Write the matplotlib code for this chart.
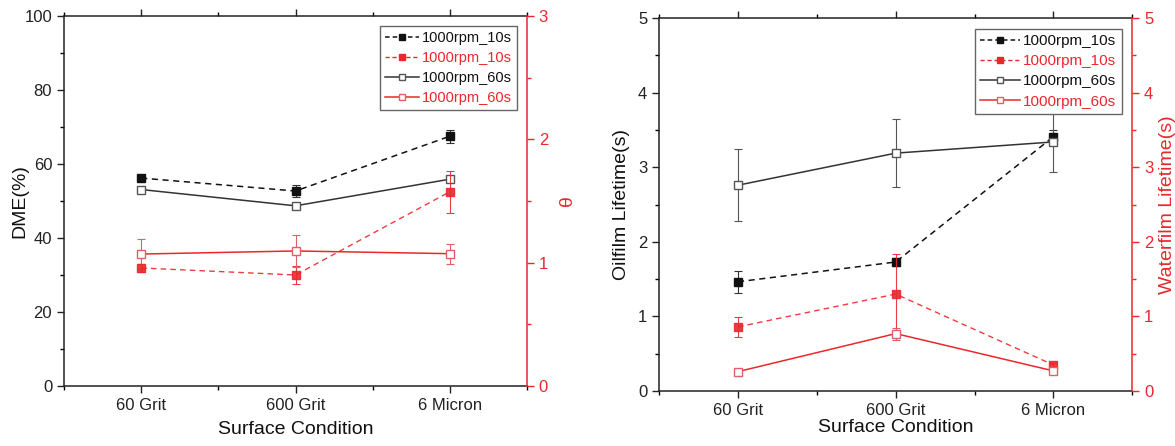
import matplotlib
matplotlib.use("Agg")
import matplotlib.pyplot as plt
from matplotlib.ticker import MultipleLocator
from matplotlib.lines import Line2D
import numpy as np

plt.rcParams['font.family'] = ['Liberation Sans', 'DejaVu Sans']

categories = ["60 Grit", "600 Grit", "6 Micron"]
legend_labels = ["1000rpm_10s", "1000rpm_10s", "1000rpm_60s", "1000rpm_60s"]

# Left panel: DME (%) and theta
dme_10s = [56.2, 52.7, 67.5]
dme_10s_err = [0.6, 1.6, 1.7]
dme_60s = [53.1, 48.7, 55.9]
dme_60s_err = [0.6, 0.8, 0.8]
theta_10s = [0.957, 0.90, 1.575]
theta_10s_err = [0.03, 0.07, 0.17]
theta_60s = [1.07, 1.095, 1.073]
theta_60s_err = [0.125, 0.13, 0.08]

# Right panel: oilfilm and waterfilm lifetime (s)
oil_10s = [1.465, 1.73, 3.41]
oil_10s_err = [0.145, 0.05, 0.09]
oil_60s = [2.76, 3.19, 3.34]
oil_60s_err = [0.48, 0.46, 0.40]
water_10s = [0.86, 1.30, 0.35]
water_10s_err = [0.13, 0.54, 0.03]
water_60s = [0.26, 0.77, 0.27]
water_60s_err = [0.02, 0.08, 0.02]

RED = "#e8282d"
BLK = "#111111"
GRY = "#333333"

fig = plt.figure(figsize=(11.75, 4.46), dpi=100)
x = np.arange(len(categories))


def style_axes(ax, axr, ymax_l, ymaj_l, ymax_r, ymaj_r):
    ax.set_xlim(-0.5, 2.5)
    ax.set_xticks(x)
    ax.set_xticklabels(categories, fontsize=12, color="#222222")
    ax.xaxis.set_minor_locator(MultipleLocator(0.5))
    ax.set_ylim(0, ymax_l)
    ax.yaxis.set_major_locator(MultipleLocator(ymaj_l))
    ax.yaxis.set_minor_locator(MultipleLocator(ymaj_l / 2))
    ax.tick_params(axis='both', which='major', direction='out', length=5, width=1, labelsize=12, colors="#222222")
    ax.tick_params(axis='both', which='minor', direction='out', length=3, width=1)
    ax.tick_params(axis='x', which='both', top=True)
    for s in ['left', 'bottom', 'top']:
        ax.spines[s].set_color("#222222")
        ax.spines[s].set_linewidth(1.1)
    ax.spines['right'].set_visible(False)
    axr.set_ylim(0, ymax_r)
    axr.yaxis.set_major_locator(MultipleLocator(ymaj_r))
    axr.yaxis.set_minor_locator(MultipleLocator(ymaj_r / 2))
    axr.tick_params(axis='y', which='major', direction='out', length=5, width=1, labelsize=12, colors=RED)
    axr.tick_params(axis='y', which='minor', direction='out', length=3, width=1, colors=RED)
    axr.spines['right'].set_color(RED)
    axr.spines['right'].set_linewidth(1.1)
    for s in ['left', 'bottom', 'top']:
        axr.spines[s].set_visible(False)


def plot_panel(ax, axr, l10, l10e, l60, l60e, r10, r10e, r60, r60e, legfs, hl):
    ms = 6
    ax.errorbar(x, l10, yerr=l10e, color=BLK, ls=(0, (4, 3)), lw=1.1, marker='s', ms=ms,
                mfc=BLK, mec=BLK, capsize=3, elinewidth=0.8, ecolor=GRY, capthick=0.8)
    ax.errorbar(x, l60, yerr=l60e, color=GRY, ls='-', lw=1.1, marker='s', ms=ms,
                mfc='white', mec="#555555", capsize=3, elinewidth=0.8, ecolor="#555555", capthick=0.8)
    axr.errorbar(x, r10, yerr=r10e, color=RED, ls=(0, (4, 3)), lw=1.0, marker='s', ms=ms,
                 mfc=RED, mec=RED, capsize=3, elinewidth=0.8, ecolor=RED, capthick=0.8, alpha=0.9)
    axr.errorbar(x, r60, yerr=r60e, color=RED, ls='-', lw=1.1, marker='s', ms=ms,
                 mfc='white', mec="#e06066", capsize=3, elinewidth=0.8, ecolor="#e06066", capthick=0.8)
    handles = [
        Line2D([], [], color=BLK, ls=(0, (3, 2)), lw=1.1, marker='s', ms=5, mfc=BLK, mec=BLK),
        Line2D([], [], color=RED, ls=(0, (3, 2)), lw=1.0, marker='s', ms=5, mfc=RED, mec=RED),
        Line2D([], [], color=GRY, ls='-', lw=1.1, marker='s', ms=5, mfc='white', mec="#555555"),
        Line2D([], [], color=RED, ls='-', lw=1.1, marker='s', ms=5, mfc='white', mec="#e06066"),
    ]
    leg = axr.legend(handles, legend_labels, loc='upper right', fontsize=legfs,
                     frameon=True, fancybox=False, edgecolor="#666666", framealpha=1,
                     handlelength=hl, handletextpad=0.2, borderpad=0.35, labelspacing=0.4,
                     borderaxespad=0.7)
    leg.get_frame().set_linewidth(1.0)
    cols = [BLK, RED, BLK, RED]
    for t, c in zip(leg.get_texts(), cols):
        t.set_color(c)


# Left panel
ax1 = fig.add_axes([0.0545, 0.1345, 0.394, 0.8296])
ax1r = ax1.twinx()
style_axes(ax1, ax1r, 100, 20, 3, 1)
plot_panel(ax1, ax1r, dme_10s, dme_10s_err, dme_60s, dme_60s_err,
           theta_10s, theta_10s_err, theta_60s, theta_60s_err, 10.5, 2.3)
ax1.set_ylabel("DME(%)", fontsize=14, color="#111111")
ax1.yaxis.set_label_coords(-0.076, 0.5)
ax1r.set_ylabel("θ", fontsize=14, color=RED, labelpad=8)
ax1.set_xlabel("Surface Condition", fontsize=14, color="#111111", labelpad=6)

# Right panel
ax2 = fig.add_axes([0.561, 0.1233, 0.4026, 0.836])
ax2r = ax2.twinx()
style_axes(ax2, ax2r, 5, 1, 5, 1)
plot_panel(ax2, ax2r, oil_10s, oil_10s_err, oil_60s, oil_60s_err,
           water_10s, water_10s_err, water_60s, water_60s_err, 11, 2.6)
ax2.set_ylabel("Oilfilm Lifetime(s)", fontsize=14, color="#111111", labelpad=6)
ax2r.set_ylabel("Waterfilm Lifetime(s)", fontsize=14, color=RED, labelpad=4)
ax2.set_xlabel("Surface Condition", fontsize=14, color="#111111", labelpad=1)

fig.savefig("out.png", dpi=100)
